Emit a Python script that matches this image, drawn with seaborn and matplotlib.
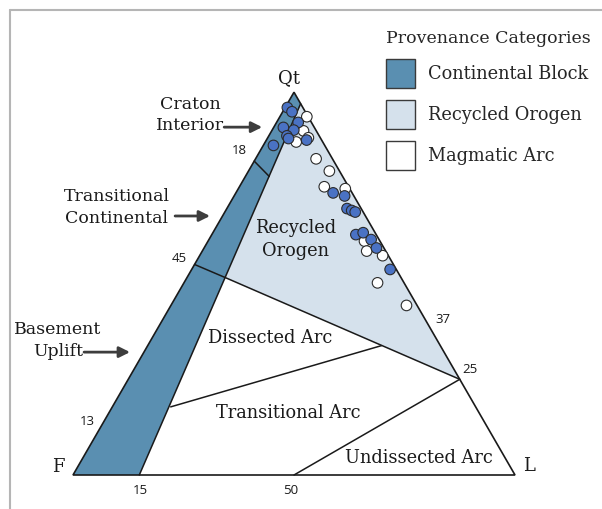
import numpy as np
import pandas as pd
import matplotlib
matplotlib.use("Agg")
import matplotlib.pyplot as plt
from matplotlib.patches import Polygon, Patch
import seaborn as sns

# sample compositions in percent (Qt, L); F = 100 - Qt - L
blue_qt = [96.0, 94.9, 92.1, 90.8, 90.1, 88.6, 87.9, 87.5, 86.1, 73.7, 72.9,
           69.6, 69.1, 68.7, 62.8, 63.3, 61.5, 59.3, 53.7]
blue_l = [0.5, 2.1, 4.9, 2.2, 4.9, 4.1, 4.8, 9.1, 2.3, 22.0, 25.0,
          27.2, 28.5, 29.5, 32.6, 34.0, 36.7, 39.0, 44.9]
white_qt = [93.6, 89.9, 87.0, 88.1, 82.6, 79.4, 75.3, 74.8, 61.1, 58.5, 57.3, 50.2, 44.3]
white_l = [6.1, 7.2, 7.0, 9.2, 13.7, 18.3, 19.2, 24.2, 35.4, 37.2, 41.4, 43.8, 53.3]

# field boundaries (Qt, F, L)
block_line = [(97, 0, 3), (0, 85, 15)]
craton_line = [(82, 18, 0), (78, 16.6, 5.4)]
basement_line = [(55, 45, 0), (51.6, 39.8, 8.6)]
orogen_line = [(51.6, 39.8, 8.6), (25, 0, 75)]
dissected_line = [(17.8, 69.0, 13.2), (33.8, 13.3, 52.9)]
undissected_line = [(0, 50, 50), (25, 0, 75)]

block_poly = [(100, 0, 0), (97, 0, 3), (0, 85, 15), (0, 100, 0)]
orogen_poly = [(97, 0, 3), (51.6, 39.8, 8.6), (25, 0, 75)]
outline = [(100, 0, 0), (0, 100, 0), (0, 0, 100)]

field_labels = ["Recycled\nOrogen", "Dissected Arc", "Transitional Arc", "Undissected Arc"]
field_pos = [(61.5, 18.8, 19.7), (35.9, 37.5, 26.6), (16.2, 43.3, 40.5), (4.5, 19.4, 76.1)]

legend_labels = ["Continental Block", "Recycled Orogen", "Magmatic Arc"]
legend_colors = ["#5a8fb1", "#d5e1ec", "#ffffff"]

DARK = "#5a8fb1"
LIGHT = "#d5e1ec"
DOT_BLUE = "#4a72c4"
INK = "#1a1a1a"


def tern(q, f, l):
    tot = q + f + l
    q, l = q / tot, l / tot
    return l + q / 2, q * np.sqrt(3) / 2


def pts(seq):
    return [tern(*p) for p in seq]


sns.set_style("white")
plt.rcParams["font.family"] = ["DejaVu Serif"]

fig = plt.figure(figsize=(6.02, 5.09), dpi=100)
ax = fig.add_axes([0, 0, 1, 1])
ax.set_xlim(-73 / 442, 529 / 442)
ax.set_ylim(-34 / 442, 475 / 442)
ax.axis("off")

ax.add_patch(Polygon(pts(block_poly), closed=True, facecolor=DARK, edgecolor="none", zorder=1))
ax.add_patch(Polygon(pts(orogen_poly), closed=True, facecolor=LIGHT, edgecolor="none", zorder=1))
ax.add_patch(Polygon(pts(outline), closed=True, facecolor="none", edgecolor=INK, lw=1.2, zorder=3))

for seg in [block_line, craton_line, basement_line, orogen_line, dissected_line, undissected_line]:
    xy = np.array(pts(seg))
    ax.plot(xy[:, 0], xy[:, 1], color=INK, lw=1.1, zorder=3)

# samples
qt = np.array(white_qt + blue_qt)
l = np.array(white_l + blue_l)
f = 100 - qt - l
x, y = tern(qt, f, l)
df = pd.DataFrame({"x": x, "y": y,
                   "group": ["arc"] * len(white_qt) + ["block"] * len(blue_qt)})
sns.scatterplot(data=df, x="x", y="y", hue="group",
                palette={"arc": "white", "block": DOT_BLUE},
                s=58, edgecolor="#2b2b2b", linewidth=0.8, legend=False, ax=ax, zorder=5)

# field names
for lab, p in zip(field_labels, field_pos):
    px, py = tern(*p)
    ax.text(px, py, lab, ha="center", va="center", fontsize=12.8,
            linespacing=1.35, color=INK, zorder=6)

# vertex names
ax.text(0.489, 0.898, "Qt", ha="center", va="center", fontsize=13, color=INK)
ax.text(-0.034, 0.018, "F", ha="center", va="center", fontsize=13, color=INK)
ax.text(1.032, 0.020, "L", ha="center", va="center", fontsize=13, color=INK)

# side values
ticks = [("18", 0.376, 0.735), ("45", 0.240, 0.489), ("13", 0.032, 0.122),
         ("15", 0.152, -0.034), ("50", 0.493, -0.034), ("37", 0.837, 0.351),
         ("25", 0.898, 0.238)]
for t, tx, ty in ticks:
    ax.text(tx, ty, t, ha="center", va="center", fontsize=9.5, color=INK,
            family=["Open Sans", "DejaVu Sans"])

# continental block sub-fields with arrows
arrow = dict(arrowstyle="-|>", color="#3d3d3d", lw=2, mutation_scale=16, shrinkA=0, shrinkB=0)
ax.text(0.265, 0.814, "Craton\nInterior", ha="center", va="center", fontsize=12.5, linespacing=1.35, color=INK)
ax.annotate("", xy=(0.428, 0.787), xytext=(0.342, 0.787), arrowprops=arrow)
ax.text(0.0995, 0.605, "Transitional\nContinental", ha="center", va="center", fontsize=12.5, linespacing=1.35, color=INK)
ax.annotate("", xy=(0.310, 0.586), xytext=(0.231, 0.586), arrowprops=arrow)
ax.text(-0.034, 0.304, "Basement\nUplift", ha="center", va="center", fontsize=12.5, linespacing=1.35, color=INK)
ax.annotate("", xy=(0.129, 0.278), xytext=(0.025, 0.278), arrowprops=arrow)

# legend
handles = [Patch(facecolor=c, edgecolor="#3a3a3a", lw=1.0) for c in legend_colors]
leg = fig.legend(handles, legend_labels, title="Provenance Categories", loc="upper left",
                 bbox_to_anchor=(386 / 602, 1 - 30 / 509), frameon=False, borderpad=0,
                 borderaxespad=0, fontsize=12.8, title_fontsize=12.5,
                 handlelength=1.65, handleheight=2.135,
                 handletextpad=0.7, labelspacing=0.68, alignment="left")

# partial frame
fig.add_artist(plt.Line2D([9.5 / 602, 9.5 / 602], [0, 1 - 9.5 / 509], color="#b5b5b5", lw=1.5))
fig.add_artist(plt.Line2D([9.5 / 602, 1], [1 - 9.5 / 509, 1 - 9.5 / 509], color="#b5b5b5", lw=1.5))

fig.savefig("out.png", dpi=100)
